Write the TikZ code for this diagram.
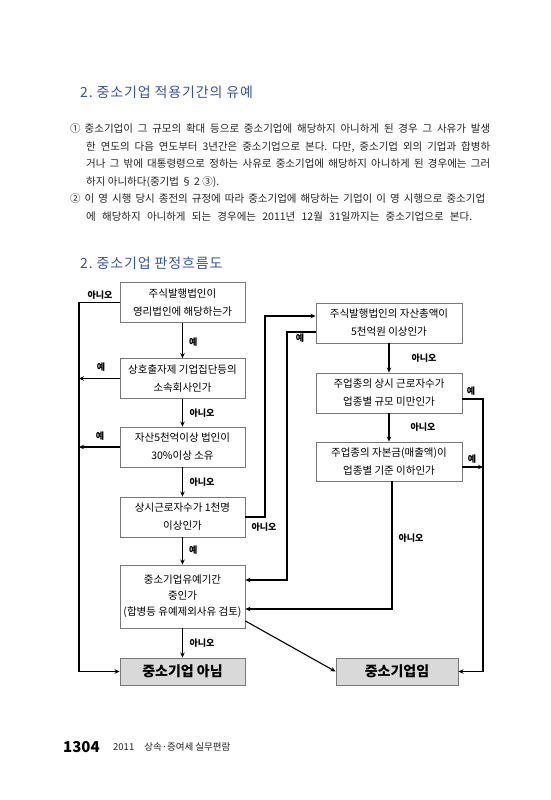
\documentclass[tikz,border=0pt]{standalone}
\usepackage{fontspec}
\usepackage{graphicx}
\setmainfont{Noto Sans CJK KR}
\newfontfamily\ttlfont{Noto Sans CJK KR}[LetterSpace=6]
\usetikzlibrary{arrows.meta,calc}
\frenchspacing
\definecolor{titleblue}{RGB}{52,84,168}
\definecolor{boxgray}{RGB}{120,120,120}
\definecolor{fillgray}{RGB}{217,217,217}
\definecolor{paratext}{RGB}{35,35,35}
\newsavebox\jlbox
\newcommand\jline[2]{\sbox\jlbox{#2}\ifdim\wd\jlbox>#1\relax\resizebox{#1}{\height}{\usebox\jlbox}\else\makebox[#1][s]{#2}\fi}
\begin{document}
\begin{tikzpicture}[x=1pt,y=-1pt,
  box/.style={draw=boxgray, line width=0.9pt, fill=white, minimum width=125pt, minimum height=40pt, align=center, font=\fontsize{10.5}{18}\selectfont, inner sep=0pt},
  wbox/.style={box, minimum width=146pt},
  endbox/.style={box, fill=fillgray, minimum height=27pt, font=\bfseries\fontsize{14}{16}\selectfont},
  arr/.style={line width=1.1pt, -{Stealth[length=5pt,width=4.5pt]}},
  lab/.style={font=\bfseries\fontsize{9}{10}\selectfont, inner sep=0pt},
  para/.style={anchor=west, inner sep=0pt, font=\fontsize{10.5}{12}\selectfont\frenchspacing, text=paratext},
  ttl/.style={anchor=west, inner sep=0pt, font=\ttlfont\fontsize{14}{16}\selectfont, text=titleblue},
  foot/.style={anchor=west, inner sep=0pt}
]
\useasboundingbox[fill=white] (0,0) rectangle (550,800);

% titles
\node[ttl] (t1) at (80,92) {2. 중소기업 적용기간의 유예};
\node[ttl] (t2) at (80,263) {2. 중소기업 판정흐름도};

% paragraph
\node[para] (p1) at (70,129) {\jline{420pt}{①\hspace{4pt}중소기업이 그 규모의 확대 등으로 중소기업에 해당하지 아니하게 된 경우 그 사유가 발생}};
\node[para] (p2) at (86,147) {\jline{404pt}{한 연도의 다음 연도부터 3년간은 중소기업으로 본다. 다만, 중소기업 외의 기업과 합병하}};
\node[para] (p3) at (86,164) {\jline{404pt}{거나 그 밖에 대통령령으로 정하는 사유로 중소기업에 해당하지 아니하게 된 경우에는 그러}};
\node[para] (p4) at (86,182) {하지 아니하다(중기법 § 2 ③).};
\node[para] (p5) at (70,199) {\jline{415pt}{②\hspace{4pt}이 영 시행 당시 종전의 규정에 따라 중소기업에 해당하는 기업이 이 영 시행으로 중소기업}};
\node[para] (p6) at (86,217) {\jline{386pt}{에 해당하지 아니하게 되는 경우에는 2011년 12월 31일까지는 중소기업으로 본다.}};

% boxes left column
\node[box] (A) at (182.5,302.5) {주식발행법인이\\영리법인에 해당하는가};
\node[box] (B) at (182.5,378.5) {상호출자제 기업집단등의\\소속회사인가};
\node[box] (C) at (182.5,447) {자산5천억이상 법인이\\30\%이상 소유};
\node[box] (D) at (182.5,517) {상시근로자수가 1천명\\이상인가};
\node[box, minimum height=63pt, font=\fontsize{10.5}{16}\selectfont] (E) at (182.5,596.5) {중소기업유예기간\\중인가\\(합병등 유예제외사유 검토)};
\node[endbox] (F) at (182.5,671.5) {중소기업 아님};
\node[endbox, minimum width=122pt] (G) at (397,671.5) {중소기업임};

% boxes right column
\node[wbox] (H) at (389,323) {주식발행법인의 자산총액이\\5천억원 이상인가};
\node[wbox] (I) at (389,393) {주업종의 상시 근로자수가\\업종별 규모 미만인가};
\node[wbox, minimum height=39pt] (J) at (389,461.5) {주업종의 자본금(매출액)이\\업종별 기준 이하인가};

% helper coordinates
\coordinate (L) at (79,0);
\coordinate (M) at (265,0);
\coordinate (N) at (287,0);
\coordinate (R) at (483,0);

% left column connectors
\draw[arr] (A.south) -- (B.north);
\node[lab, anchor=west] (la1) at (189,342) {예};
\draw[arr] (A.west) -| (L |- F.west) -- (F.west);
\node[lab] (la2) at (100,295) {아니오};
\draw[arr] (B.west) -- (L |- B.west);
\node[lab] (lb1) at (101,367) {예};
\draw[arr] (B.south) -- (C.north);
\node[lab] (lb2) at (202,413) {아니오};
\draw[arr] (C.west) -- (L |- C.west);
\node[lab] (lc1) at (100,436) {예};
\draw[arr] (C.south) -- (D.north);
\node[lab] (lc2) at (202,482) {아니오};
\draw[arr] (D.east) -| (M |- 0,316) -- (H.west |- 0,316);
\node[lab] (ld1) at (264,527) {아니오};
\draw[arr] (D.south) -- (E.north);
\node[lab, anchor=west] (ld2) at (189,550) {예};
\draw[arr] (E.south) -- (F.north);
\node[lab] (le1) at (202,643) {아니오};
\draw[arr] (E.east |- 0,621) -- (G.west);

% right column connectors
\draw[arr] (H.west |- 0,332) -| (N |- 0,580) -- (E.east |- 0,580);
\node[lab] (lh1) at (300,338) {예};
\draw[arr] (H.south) -- (I.north);
\node[lab] (lh2) at (424,358) {아니오};
\draw[arr] (I.east |- 0,399) -| (R |- G.east) -- (G.east);
\node[lab] (li1) at (471,391) {예};
\draw[arr] (I.south) -- (J.north);
\node[lab] (li2) at (423,427) {아니오};
\draw[arr] (J.east |- 0,467) -- (R |- 0,467);
\node[lab] (lj1) at (472,459) {예};
\draw[arr] (J.south -| 392,0) |- (E.east |- 0,609);
\node[lab] (lj2) at (411,538) {아니오};

% footer
\node[foot, font=\bfseries\fontsize{15}{16}\selectfont] (pg) at (63,747) {1304};
\node[foot, font=\fontsize{9.5}{11}\selectfont, text=paratext] (bk) at (113,747) {2011\hspace{10pt}상속·증여세 실무편람};
\end{tikzpicture}
\end{document}
